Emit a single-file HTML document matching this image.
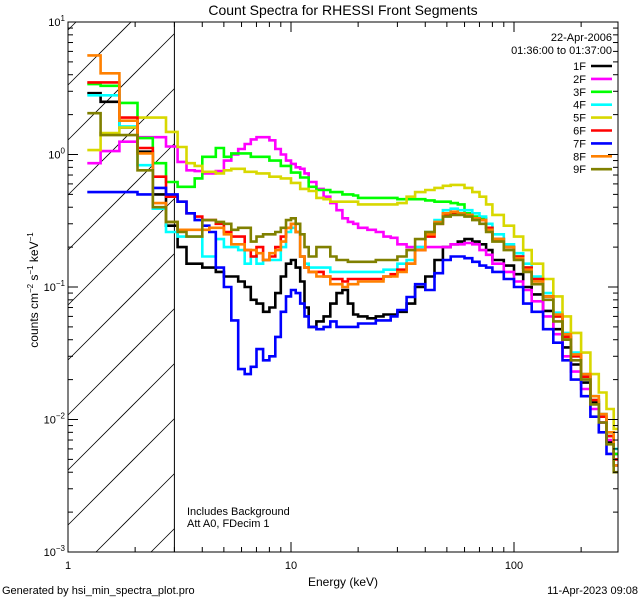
<!DOCTYPE html>
<html><head><meta charset="utf-8"><style>
html,body{margin:0;padding:0;background:#fff;width:640px;height:600px;overflow:hidden;}
svg{display:block;font-family:"Liberation Sans",sans-serif;}
</style></head><body>
<svg id="chart" width="640" height="600" viewBox="0 0 640 600">
<rect x="0" y="0" width="640" height="600" fill="#fff"/>
<text x="343" y="15" font-size="14" text-anchor="middle">Count Spectra for RHESSI Front Segments</text>
<text x="612" y="41" font-size="11" text-anchor="end">22-Apr-2006</text>
<text x="612" y="54" font-size="11" text-anchor="end">01:36:00 to 01:37:00</text>
<text x="187" y="515" font-size="11">Includes Background</text>
<text x="187" y="527" font-size="11">Att A0, FDecim 1</text>
<text x="343" y="586" font-size="12" text-anchor="middle">Energy (keV)</text>
<text transform="translate(38,290) rotate(-90)" font-size="12" text-anchor="middle">counts cm<tspan font-size="8" dy="-5">−2</tspan><tspan dy="5"> s</tspan><tspan font-size="8" dy="-5">−1</tspan><tspan dy="5"> keV</tspan><tspan font-size="8" dy="-5">−1</tspan></text>
<text x="2" y="594" font-size="11">Generated by hsi_min_spectra_plot.pro</text>
<text x="638" y="594" font-size="11" text-anchor="end">11-Apr-2023 09:08</text>
<g id="g-hatch"></g>
<g id="g-series"></g>
<g id="g-axes"></g>
<g id="g-legend"></g>
</svg>
<script>
const edges = [1.22,1.4,1.7,2.05,2.4,2.75,3.1,3.4,3.7,4,4.3,4.6,5,5.4,5.8,6.2,6.6,7,7.5,8,8.5,9,9.5,10,10.5,11,11.5,12,13,14,15,16,17,18,19,20,22,24,26,28,30,33,36,40,44,48,52,56,60,65,70,75,80,90,100,110,120,135,150,165,180,200,220,240,260,280,295];
const seriesNames = ["1F","2F","3F","4F","5F","6F","7F","8F","9F"];
const seriesColors = ["#000000","#ff00ff","#00ff00","#00ffff","#d8d800","#ff0000","#0000ff","#ff8000","#808000"];
const s1F = [2.9,2.5,1.6,1.05,0.5,0.29, 0.2,0.15,0.15,0.14,0.14,0.13,0.12,0.12,0.11,0.1, 0.08,0.075,0.065,0.07,0.09,0.12,0.15,0.16,0.14,0.11, 0.07,0.05,0.055,0.06,0.075,0.09,0.095,0.075,0.062,0.06, 0.058,0.06,0.062,0.062,0.065,0.075,0.1, 0.12,0.16,0.2,0.21,0.22,0.23,0.22,0.21,0.19,0.16,0.145,0.125,0.1,0.088,0.066,0.048,0.035,0.026,0.019,0.0135,0.0095,0.0068,0.0055];
const s2F = [0.86,1.06,1.25,1.35,1.35,1.15, 0.88,0.76,0.75,0.72,0.72,0.75,0.9,1.0,1.1,1.2, 1.3,1.35,1.35,1.28,1.1,1.0,0.9,0.85,0.8,0.78, 0.72,0.62,0.55,0.48,0.43,0.38,0.33,0.31,0.3,0.28, 0.27,0.26,0.24,0.235,0.21,0.2,0.2, 0.2,0.2,0.2,0.21,0.21,0.215,0.21,0.19,0.175,0.15,0.13,0.11,0.095,0.078,0.06,0.044,0.03,0.023,0.017,0.012,0.0095,0.007,0.0055];
const s3F = [3.4,3.3,2.45,1.33,0.86,0.62, 0.57,0.57,0.66,0.96,0.96,1.12,0.96,1.02,1.02,1.02, 0.96,0.96,0.96,0.9,0.9,0.82,0.82,0.73,0.73,0.67, 0.67,0.57,0.54,0.54,0.52,0.52,0.5,0.5,0.49,0.47, 0.47,0.47,0.47,0.47,0.46,0.46,0.46, 0.45,0.44,0.44,0.43,0.42,0.36,0.34,0.33,0.28,0.23,0.2,0.17,0.14,0.115,0.085,0.06,0.042,0.03,0.021,0.014,0.0105,0.0075,0.0055];
const s4F = [2.8,2.8,1.63,0.83,0.39,0.26, 0.24,0.24,0.24,0.17,0.17,0.23,0.2,0.2,0.19,0.15, 0.17,0.15,0.16,0.16,0.16,0.2,0.26,0.28,0.26,0.17, 0.15,0.14,0.14,0.14,0.13,0.13,0.13,0.13,0.13,0.13, 0.13,0.13,0.135,0.135,0.15,0.16,0.2, 0.26,0.32,0.38,0.39,0.38,0.38,0.36,0.34,0.3,0.25,0.21,0.18,0.15,0.12,0.09,0.064,0.045,0.032,0.022,0.015,0.011,0.008,0.006];
const s5F = [1.08,1.45,1.6,1.9,1.9,1.48, 1.14,0.86,0.82,0.74,0.74,0.72,0.76,0.78,0.78,0.74, 0.74,0.72,0.72,0.68,0.68,0.66,0.66,0.61,0.61,0.55, 0.55,0.53,0.47,0.46,0.44,0.44,0.44,0.44,0.44,0.42, 0.42,0.42,0.42,0.42,0.43,0.48,0.52, 0.54,0.56,0.58,0.59,0.59,0.56,0.52,0.48,0.42,0.35,0.29,0.24,0.19,0.15,0.115,0.085,0.06,0.045,0.032,0.022,0.016,0.012,0.0085];
const s6F = [3.5,3.5,1.9,1.12,0.68,0.48, 0.44,0.36,0.34,0.32,0.32,0.3,0.26,0.24,0.24,0.19, 0.17,0.2,0.16,0.17,0.2,0.24,0.28,0.3,0.26,0.17, 0.14,0.13,0.13,0.12,0.115,0.115,0.11,0.115,0.115,0.115, 0.115,0.115,0.12,0.125,0.135,0.15,0.19, 0.24,0.3,0.35,0.36,0.36,0.35,0.33,0.32,0.28,0.23,0.2,0.17,0.14,0.115,0.085,0.06,0.042,0.03,0.021,0.014,0.0105,0.0075,0.005];
const s7F = [0.52,0.52,0.52,0.5,0.56,0.5, 0.44,0.36,0.32,0.29,0.26,0.14,0.1,0.056,0.024,0.022, 0.025,0.034,0.028,0.03,0.042,0.065,0.085,0.095,0.09,0.075, 0.06,0.05,0.048,0.05,0.055,0.05,0.05,0.05,0.05,0.053, 0.053,0.056,0.056,0.06,0.067,0.084,0.105, 0.095,0.127,0.16,0.17,0.17,0.165,0.155,0.145,0.14,0.13,0.115,0.1,0.075,0.065,0.048,0.038,0.028,0.02,0.015,0.0105,0.008,0.0055,0.0045];
const s8F = [5.6,4.1,1.8,1.02,0.43,0.31, 0.27,0.27,0.27,0.27,0.28,0.28,0.25,0.21,0.21,0.19, 0.19,0.18,0.16,0.18,0.19,0.22,0.28,0.3,0.26,0.17, 0.14,0.13,0.12,0.12,0.105,0.105,0.1,0.105,0.105,0.11, 0.11,0.11,0.12,0.12,0.13,0.15,0.19, 0.25,0.31,0.36,0.37,0.36,0.35,0.33,0.32,0.27,0.23,0.2,0.165,0.135,0.11,0.085,0.062,0.044,0.031,0.022,0.015,0.011,0.008,0.0045];
const s9F = [2.05,1.4,1.4,0.76,0.4,0.31, 0.26,0.24,0.24,0.32,0.32,0.31,0.3,0.27,0.28,0.28, 0.22,0.24,0.25,0.25,0.26,0.28,0.32,0.33,0.3,0.25, 0.2,0.17,0.2,0.2,0.17,0.16,0.16,0.155,0.155,0.155, 0.155,0.16,0.16,0.16,0.17,0.19,0.23, 0.26,0.3,0.34,0.35,0.35,0.34,0.32,0.3,0.26,0.22,0.19,0.16,0.13,0.105,0.08,0.055,0.04,0.028,0.02,0.013,0.0095,0.0065,0.004];
const seriesValues = [s1F,s2F,s3F,s4F,s5F,s6F,s7F,s8F,s9F];
const xMajorTicks = [1,10,100];
const xTickLabels = ["1","10","100"];
const yMajorExps = [1,0,-1,-2,-3];

const NS="http://www.w3.org/2000/svg";
const L=68,R=618,T=22,B=552;
const xs=v=>L+Math.log10(v)*223;
const ys=v=>T+(1-Math.log10(v))*132.5;
function mk(tag,attrs,parent){const e=document.createElementNS(NS,tag);for(const k in attrs)e.setAttribute(k,attrs[k]);parent.appendChild(e);return e;}
const svg=document.getElementById('chart');
const defs=mk('defs',{},svg);
const cp=mk('clipPath',{id:'plotclip'},defs);
mk('rect',{x:L,y:T,width:R-L,height:B-T},cp);

const gh=document.getElementById('g-hatch');
const Xt=xs(3);
for(let c=T+8;c<B+(Xt-L);c+=55){
  // line y = c - (x - L)
  const xa=Math.max(L, L+c-B), xb=Math.min(Xt, L+c-T);
  if(xa>=xb) continue;
  const ln=mk('line',{x1:xa,y1:c-(xa-L),x2:xb,y2:c-(xb-L),stroke:'#000','stroke-width':0.8},gh);
  
  
}
const th=mk('line',{x1:Xt,y1:T,x2:Xt,y2:B,stroke:'#000','stroke-width':1},gh);



const gs=document.getElementById('g-series');
gs.setAttribute('clip-path','url(#plotclip)');
seriesValues.forEach((vals,si)=>{
  let d='';
  vals.forEach((v,i)=>{
    const x0=xs(edges[i]),x1=Math.min(R,xs(edges[i+1])),y=ys(v);
    d+=(i===0?'M':'L')+x0.toFixed(1)+','+y.toFixed(1)+'L'+x1.toFixed(1)+','+y.toFixed(1);
  });
  const p=mk('path',{d:d,fill:'none',stroke:seriesColors[si],'stroke-width':2.6,'stroke-linejoin':'miter'},gs);
  
  
});

const ga=document.getElementById('g-axes');
const fr=mk('rect',{x:L,y:T,width:R-L,height:B-T,fill:'none',stroke:'#000','stroke-width':1},ga);


for(let dec=1;dec<=100;dec*=10){
  for(let m=1;m<=9;m++){
    const v=dec*m; if(v>295) break;
    const x=xs(v); const len=(m===1)?10:5;
    const t1=mk('line',{x1:x,y1:B,x2:x,y2:B-len,stroke:'#000','stroke-width':1},ga);
    
    
    const t2=mk('line',{x1:x,y1:T,x2:x,y2:T+len,stroke:'#000','stroke-width':1},ga);
    
    
  }
}
xMajorTicks.forEach((v,i)=>{
  const t=mk('text',{x:xs(v),y:B+17,'font-size':11,'text-anchor':'middle'},ga);
  t.textContent=xTickLabels[i];
  
  
});
for(let e=-3;e<1;e++){
  for(let m=1;m<=9;m++){
    const v=Math.pow(10,e)*m; const y=ys(v); const len=(m===1)?10:5;
    const a=mk('line',{x1:L,y1:y,x2:L+len,y2:y,stroke:'#000','stroke-width':1},ga);
    
    
    const b=mk('line',{x1:R,y1:y,x2:R-len,y2:y,stroke:'#000','stroke-width':1},ga);
    
    
  }
}
yMajorExps.forEach(e=>{
  const y=ys(Math.pow(10,e));
  const t=mk('text',{x:L-3,y:y+4,'font-size':11,'text-anchor':'end'},ga);
  
  
  const base=document.createElementNS(NS,'tspan');base.textContent='10';t.appendChild(base);
  const sup=document.createElementNS(NS,'tspan');sup.setAttribute('font-size','8');sup.setAttribute('dy','-5');sup.textContent=String(e).replace('-','−');t.appendChild(sup);
});

const gl=document.getElementById('g-legend');
seriesNames.forEach((n,i)=>{
  const y=66+i*12.9;
  const t=mk('text',{x:586,y:y+4,'font-size':11,'text-anchor':'end'},gl);
  t.textContent=n;
  
  
  const l=mk('line',{x1:591,y1:y,x2:612,y2:y,stroke:seriesColors[i],'stroke-width':2.6},gl);
  
  
});
</script>
</body></html>
